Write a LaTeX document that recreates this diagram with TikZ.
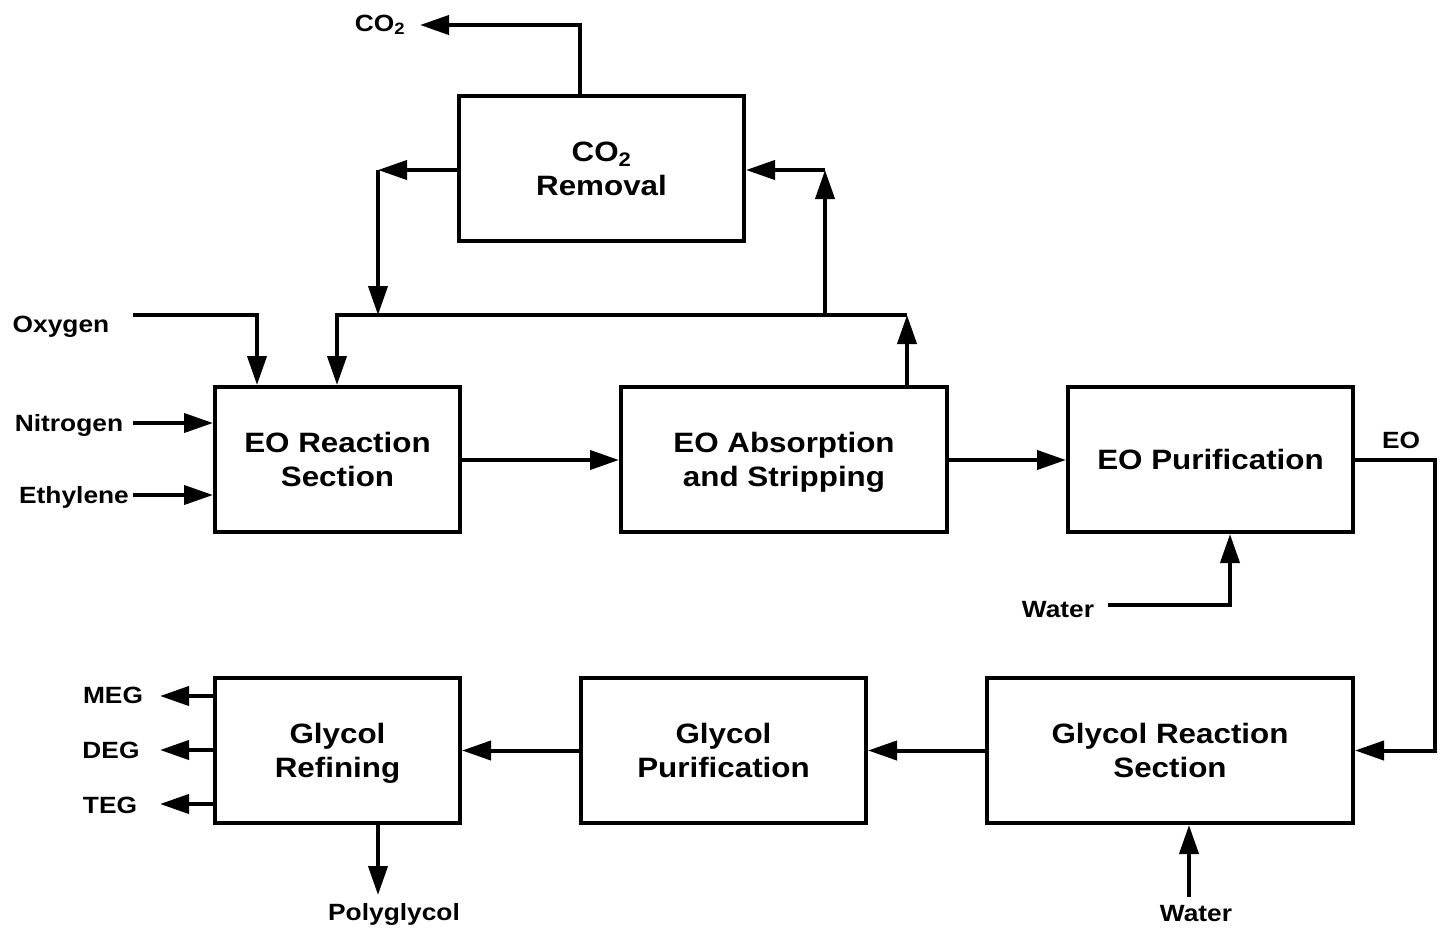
\documentclass[tikz,border=0pt]{standalone}
\usepackage{fontspec}
\setmainfont[FakeStretch=1.12]{Liberation Sans}
\usetikzlibrary{arrows.meta}
\begin{document}
\begin{tikzpicture}[x=1pt,y=-1pt,
  pipe/.style={line width=4pt},
  flow/.style={line width=4pt,-{Triangle[length=29pt,width=19pt]}},
  unit/.style={draw,line width=4pt,align=center,inner sep=0pt,
    font=\bfseries\fontsize{28}{34}\selectfont},
  tag/.style={anchor=base,inner sep=0pt,font=\bfseries\fontsize{23.5}{28}\selectfont}]
\useasboundingbox (0,0) rectangle (1441,932);

% process units (last lines smashed so descenders do not shift the text block)
\node[unit,minimum width=285pt,minimum height=145pt] (co2) at (601.5,168.5) {CO\textsubscript{2}\\Removal};
\node[unit,minimum width=245pt,minimum height=145pt] (eor) at (337.5,459.5) {EO Reaction\\Section};
\node[unit,minimum width=326pt,minimum height=145pt] (eoa) at (784,459.5) {EO Absorption\\\smash{and Stripping}};
\node[unit,minimum width=285pt,minimum height=145pt] (eop) at (1210.5,459.5) {EO Purification};
\node[unit,minimum width=245pt,minimum height=145pt] (gref) at (337.5,750.5) {Glycol\\\smash{Refining}};
\node[unit,minimum width=285pt,minimum height=145pt] (gpur) at (723.5,750.5) {Glycol\\Purification};
\node[unit,minimum width=366pt,minimum height=145pt] (grx) at (1170,750.5) {Glycol Reaction\\Section};

% stream labels
\node[tag] (lco2) at (380,31) {CO\textsubscript{2}};
\node[tag] (loxy) at (61,332) {Oxygen};
\node[tag] (lnit) at (69,431) {Nitrogen};
\node[tag] (leth) at (74,503) {Ethylene};
\node[tag] (leo) at (1401,448) {EO};
\node[tag] (lw1) at (1058,617) {Water};
\node[tag] (lw2) at (1196,921) {Water};
\node[tag] (lpg) at (394,920) {Polyglycol};
\node[tag] (lmeg) at (113,703) {MEG};
\node[tag] (ldeg) at (111,758) {DEG};
\node[tag] (lteg) at (110,813) {TEG};

% stream end points and bends
\coordinate (ventup) at (580,25);
\coordinate (vent) at (420,25);
\coordinate (oxin) at (133,315);
\coordinate (oxdrop) at (257,315);
\coordinate (nin) at (133,423);
\coordinate (ein) at (133,495);
\coordinate (hdrL) at (337,315);
\coordinate (hdrR) at (907,315);
\coordinate (tapup) at (825,315);
\coordinate (tapcorner) at (825,170);
\coordinate (retcorner) at (378,170);
\coordinate (eoR) at (1435,460);
\coordinate (w1) at (1108,605);
\coordinate (w1turn) at (1230,605);
\coordinate (w2) at (1189,897);
\coordinate (pg) at (378,895);
\coordinate (meg) at (160,696);
\coordinate (deg) at (160,750);
\coordinate (teg) at (160,804);

% CO2 vent
\draw[flow] (co2.north -| ventup) -- (ventup) -- (vent);

% feeds
\draw[flow] (oxin) -- (oxdrop) -- (oxdrop |- eor.north);
\draw[flow] (nin) -- (nin -| eor.west);
\draw[flow] (ein) -- (ein -| eor.west);

% recycle gas loop
\draw[flow] (eoa.north -| hdrR) -- (hdrR);
\draw[flow] (hdrR) -- (hdrL) -- (hdrL |- eor.north);
\draw[flow] (tapup) -- (tapcorner);
\draw[flow] (tapcorner) -- (tapcorner -| co2.east);
\draw[flow] (co2.west |- retcorner) -- (retcorner);
\draw[flow] (retcorner) -- (retcorner |- hdrL);

% main EO train
\draw[flow] (eor.east |- eoR) -- (eoa.west |- eoR);
\draw[flow] (eoa.east |- eoR) -- (eop.west |- eoR);
\draw[flow] (w1) -- (w1turn) -- (w1turn |- eop.south);
\draw[flow] (eop.east |- eoR) -- (eoR) -- (eoR |- grx.east) -- (grx.east);

% glycol train
\draw[flow] (w2) -- (w2 |- grx.south);
\draw[flow] (grx.west) -- (gpur.east);
\draw[flow] (gpur.west) -- (gref.east);
\draw[flow] (gref.south -| pg) -- (pg);
\draw[flow] (gref.west |- meg) -- (meg);
\draw[flow] (gref.west |- deg) -- (deg);
\draw[flow] (gref.west |- teg) -- (teg);
\end{tikzpicture}
\end{document}
